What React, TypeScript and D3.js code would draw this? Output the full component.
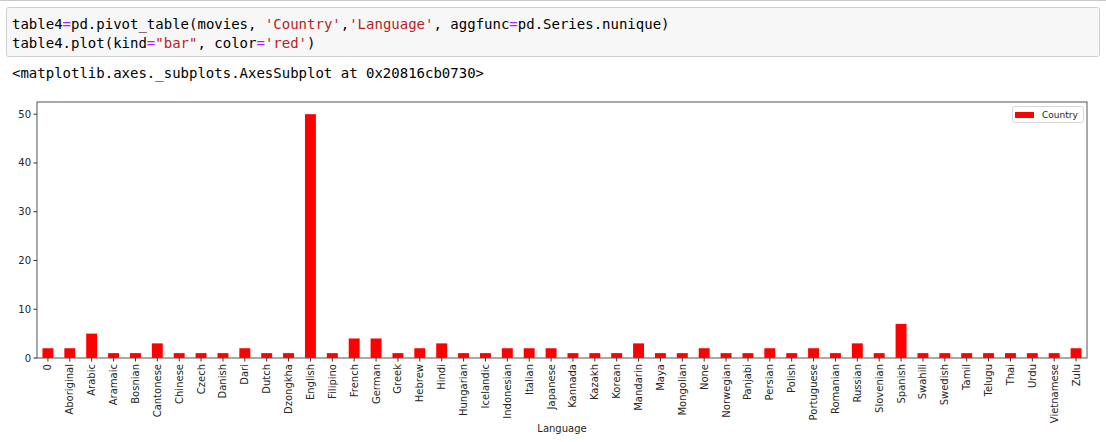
import React from "react";
import * as d3 from "d3";

const languages: string[] = [
  "0", "Aboriginal", "Arabic", "Aramaic", "Bosnian", "Cantonese", "Chinese", "Czech",
  "Danish", "Dari", "Dutch", "Dzongkha", "English", "Filipino", "French", "German",
  "Greek", "Hebrew", "Hindi", "Hungarian", "Icelandic", "Indonesian", "Italian", "Japanese",
  "Kannada", "Kazakh", "Korean", "Mandarin", "Maya", "Mongolian", "None", "Norwegian",
  "Panjabi", "Persian", "Polish", "Portuguese", "Romanian", "Russian", "Slovenian", "Spanish",
  "Swahili", "Swedish", "Tamil", "Telugu", "Thai", "Urdu", "Vietnamese", "Zulu",
];
const countryCounts: number[] = [
  2, 2, 5, 1, 1, 3, 1, 1,
  1, 2, 1, 1, 50, 1, 4, 4,
  1, 2, 3, 1, 1, 2, 2, 2,
  1, 1, 1, 3, 1, 1, 2, 1,
  1, 2, 1, 2, 1, 3, 1, 7,
  1, 1, 1, 1, 1, 1, 1, 2,
];
const yTicks: number[] = [0, 10, 20, 30, 40, 50];
const seriesName = "Country";
const xLabel = "Language";

const W = 1106;
const H = 442;
const M = { left: 37, right: 1087, top: 102, bottom: 358 };

export default function App() {
  const x = d3
    .scaleBand<string>()
    .domain(languages)
    .range([M.left, M.right])
    .paddingInner(0.5)
    .paddingOuter(0.25);
  const y = d3.scaleLinear().domain([0, 52.5]).range([M.bottom, M.top]);
  const font = "'DejaVu Sans', sans-serif";
  const mono = "'DejaVu Sans Mono', monospace";
  const kw = "#aa22ff";
  const str = "#ba2121";

  return (
    <div style={{ position: "absolute", left: 0, top: 0, width: W, height: H, background: "#fff" }}>
      <svg width={W} height={H} style={{ display: "block" }}>
        <rect x={0} y={0} width={W} height={H} fill="#fff" />
        <line x1={0} x2={W} y1={0.5} y2={0.5} stroke="#c8c8c8" />
        {/* code cell */}
        <rect x={6.5} y={7.5} width={1093} height={49} fill="#f7f7f7" stroke="#cfcfcf" rx={2} />
        <text x={12} y={29} fontFamily={mono} fontSize={14} fill="#000" xmlSpace="preserve">
          <tspan>table4</tspan>
          <tspan fill={kw}>=</tspan>
          <tspan>pd.pivot_table(movies, </tspan>
          <tspan fill={str}>'Country'</tspan>
          <tspan>,</tspan>
          <tspan fill={str}>'Language'</tspan>
          <tspan>, aggfunc</tspan>
          <tspan fill={kw}>=</tspan>
          <tspan>pd.Series.nunique)</tspan>
        </text>
        <text x={12} y={48} fontFamily={mono} fontSize={14} fill="#000" xmlSpace="preserve">
          <tspan>table4.plot(kind</tspan>
          <tspan fill={kw}>=</tspan>
          <tspan fill={str}>"bar"</tspan>
          <tspan>, color</tspan>
          <tspan fill={kw}>=</tspan>
          <tspan fill={str}>'red'</tspan>
          <tspan>)</tspan>
        </text>
        <text x={12} y={78} fontFamily={mono} fontSize={14} fill="#000">
          {"<matplotlib.axes._subplots.AxesSubplot at 0x20816cb0730>"}
        </text>

        {/* bars */}
        {languages.map((l, i) => (
          <rect
            key={l}
            x={x(l)!}
            y={y(countryCounts[i])}
            width={x.bandwidth()}
            height={y(0) - y(countryCounts[i])}
            fill="#ff0000"
          />
        ))}

        {/* spines */}
        <rect
          x={M.left}
          y={M.top}
          width={M.right - M.left}
          height={M.bottom - M.top}
          fill="none"
          stroke="#555"
          strokeWidth={1}
        />

        {/* y axis */}
        {yTicks.map((t) => (
          <g key={t}>
            <line x1={M.left - 3.5} x2={M.left} y1={y(t)} y2={y(t)} stroke="#333" />
            <text
              x={M.left - 6}
              y={y(t)}
              textAnchor="end"
              dominantBaseline="central"
              fontFamily={font}
              fontSize={10}
              fill="#262626"
            >
              {t}
            </text>
          </g>
        ))}

        {/* x axis */}
        {languages.map((l) => {
          const cx = x(l)! + x.bandwidth() / 2;
          return (
            <g key={l}>
              <line x1={cx} x2={cx} y1={M.bottom} y2={M.bottom + 3.5} stroke="#333" />
              <text
                transform={`translate(${cx},${M.bottom + 6}) rotate(-90)`}
                textAnchor="end"
                dominantBaseline="central"
                fontFamily={font}
                fontSize={10}
                fill="#262626"
              >
                {l}
              </text>
            </g>
          );
        })}
        <text
          x={(M.left + M.right) / 2 + 0}
          y={432}
          textAnchor="middle"
          fontFamily={font}
          fontSize={10}
          fill="#262626"
        >
          {xLabel}
        </text>

        {/* legend */}
        <rect x={1012.5} y={106.5} width={71} height={16} fill="#fff" stroke="#d6d6d6" rx={2} />
        <rect x={1015} y={112} width={19} height={6} fill="#ff0000" />
        <text x={1042} y={115} dominantBaseline="central" fontFamily={font} fontSize={9} fill="#262626">
          {seriesName}
        </text>
      </svg>
    </div>
  );
}
